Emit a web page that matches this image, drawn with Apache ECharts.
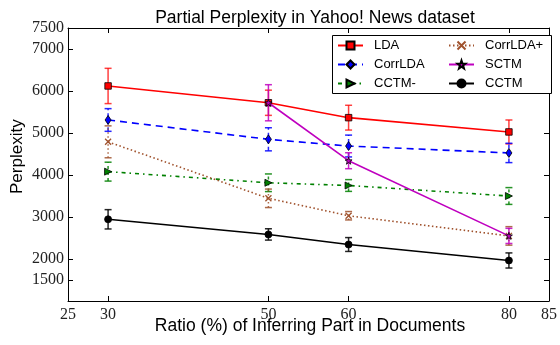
<!DOCTYPE html>
<html>
<head>
<meta charset="utf-8">
<script src="https://cdn.jsdelivr.net/npm/echarts@6/dist/echarts.min.js"></script>
<style>html,body{margin:0;padding:0;background:#fff;}#c{width:560px;height:345px;}</style>
</head>
<body>
<div id="c"></div>
<script>
const xValues = [30, 50, 60, 80];
const xTicks = [25, 30, 50, 60, 80, 85];
const yTicks = [1500, 2000, 3000, 4000, 5000, 6000, 7000, 7500];

const ldaVals = [6120, 5720, 5365, 5025];
const ldaErr = [420, 300, 295, 285];
const corrLdaVals = [5310, 4850, 4690, 4525];
const corrLdaErr = [270, 275, 260, 230];
const cctmMinusVals = [4080, 3815, 3750, 3500];
const cctmMinusErr = [225, 210, 140, 200];
const corrLdaPlusVals = [4790, 3445, 3030, 2550];
const corrLdaPlusErr = [380, 220, 100, 220];
const sctmVals = [null, 5720, 4340, 2550];
const sctmErr = [null, 430, 190, 180];
const cctmVals = [2945, 2585, 2345, 1965];
const cctmErr = [230, 135, 165, 180];

const legendCol1 = ['LDA', 'CorrLDA', 'CCTM-'];
const legendCol2 = ['CorrLDA+', 'SCTM', 'CCTM'];

const seriesDefs = [
  {name: 'LDA', vals: ldaVals, err: ldaErr, color: '#ff0000', errColor: 'rgba(255,0,0,0.75)', dash: 'solid', errDash: null,
   symbol: 'rect', size: 6.5, symbolColor: '#ff0000', border: '#000', rotate: 0},
  {name: 'CorrLDA', vals: corrLdaVals, err: corrLdaErr, color: '#0000ff', errColor: 'rgba(0,0,255,0.85)', dash: [7, 5], errDash: [4, 3],
   symbol: 'diamond', size: [6, 9], symbolColor: '#0000ff', border: '#000', rotate: 0},
  {name: 'CCTM-', vals: cctmMinusVals, err: cctmMinusErr, color: '#008000', errColor: 'rgba(0,128,0,0.85)', dash: [4, 4, 1.5, 4], errDash: [3, 3],
   symbol: 'triangle', size: 7, symbolColor: '#008000', border: '#000', rotate: -90},
  {name: 'CorrLDA+', vals: corrLdaPlusVals, err: corrLdaPlusErr, color: '#a0522d', errColor: 'rgba(160,82,45,0.85)', dash: [1.5, 2.5], errDash: [1.5, 2.5],
   symbol: 'path://M0,0L10,10M10,0L0,10', size: 6, symbolColor: '#a0522d', border: '#a0522d', rotate: 0},
  {name: 'SCTM', vals: sctmVals, err: sctmErr, color: '#bf00bf', errColor: 'rgba(191,0,191,0.85)', dash: 'solid', errDash: null,
   symbol: 'path://M5,0L6.2,3.6L10,3.8L7,6.1L8.1,10L5,7.7L1.9,10L3,6.1L0,3.8L3.8,3.6Z', size: 7, symbolColor: '#bf00bf', border: '#000', rotate: 0},
  {name: 'CCTM', vals: cctmVals, err: cctmErr, color: '#000000', errColor: 'rgba(0,0,0,0.85)', dash: 'solid', errDash: null,
   symbol: 'circle', size: 7, symbolColor: '#000', border: '#000', rotate: 0}
];

function errRender(color, dash) {
  return function (params, api) {
    const x = api.value(0), lo = api.value(1), hi = api.value(2);
    const a = api.coord([x, lo]), b = api.coord([x, hi]);
    const w = 3.5;
    const st = {stroke: color, lineWidth: 1.5};
    return {type: 'group', children: [
      {type: 'line', shape: {x1: a[0], y1: a[1], x2: b[0], y2: b[1]}, style: Object.assign({}, st, dash ? {lineDash: dash} : {})},
      {type: 'line', shape: {x1: a[0] - w, y1: a[1], x2: a[0] + w, y2: a[1]}, style: st},
      {type: 'line', shape: {x1: b[0] - w, y1: b[1], x2: b[0] + w, y2: b[1]}, style: st}
    ]};
  };
}

const series = [];
seriesDefs.forEach(function (d, k) {
  const errData = [];
  xValues.forEach(function (x, i) {
    if (d.vals[i] != null) errData.push([x, d.vals[i] - d.err[i], d.vals[i] + d.err[i]]);
  });
  series.push({
    type: 'custom', name: d.name + ' err', renderItem: errRender(d.errColor, d.errDash),
    data: errData, encode: {x: 0, y: [1, 2]}, z: 10 + k * 2, silent: true, clip: false
  });
  series.push({
    type: 'line', name: d.name,
    data: xValues.map(function (x, i) { return d.vals[i] == null ? null : [x, d.vals[i]]; }).filter(function (p) { return p; }),
    symbol: d.symbol, symbolSize: d.size, symbolRotate: d.rotate, showAllSymbol: true,
    lineStyle: {color: d.color, width: 1.6, type: d.dash},
    itemStyle: {color: d.symbolColor, borderColor: d.border, borderWidth: d.name === 'CorrLDA+' ? 1.3 : 0.8},
    z: 11 + k * 2, animation: false
  });
});

const serif = 'Liberation Serif';
const sans = 'Liberation Sans';
const plain = function (v) { return String(v); };

function makeLegend(left, data) {
  return {
    orient: 'vertical', left: left, top: 39, padding: 0, itemGap: 6, itemWidth: 25, itemHeight: 10,
    textStyle: {fontFamily: sans, fontSize: 13, color: '#000', padding: [0, 0, 0, 6]},
    data: data, z: 60
  };
}

const chart = echarts.init(document.getElementById('c'), null, {renderer: 'canvas'});
chart.setOption({
  animation: false,
  backgroundColor: '#fff',
  title: {text: 'Partial Perplexity in Yahoo! News dataset', left: 310, textAlign: 'center', top: 4,
    textStyle: {fontFamily: sans, fontSize: 17.5, fontWeight: 'normal', color: '#000'}},
  grid: {left: 68, right: 7, top: 28, bottom: 44},
  legend: [makeLegend(337, legendCol1), makeLegend(448, legendCol2)],
  xAxis: [{
    type: 'value', min: 25, max: 85, interval: 5,
    axisLine: {show: true, onZero: false, lineStyle: {color: '#000', width: 1}},
    axisTick: {show: true, inside: true, length: 5, customValues: xTicks, lineStyle: {color: '#000'}},
    axisLabel: {customValues: xTicks, formatter: plain, fontFamily: serif, fontSize: 16, color: '#222', margin: 6},
    splitLine: {show: false}
  }, {
    type: 'value', min: 25, max: 85, interval: 5, position: 'top',
    axisLine: {show: true, onZero: false, lineStyle: {color: '#000', width: 1}},
    axisTick: {show: true, inside: true, length: 5, customValues: xTicks, lineStyle: {color: '#000'}},
    axisLabel: {show: false}, splitLine: {show: false}
  }],
  yAxis: [{
    type: 'value', min: 1000, max: 7500, interval: 500,
    axisLine: {show: true, onZero: false, lineStyle: {color: '#000', width: 1}},
    axisTick: {show: true, inside: true, length: 5, customValues: yTicks, lineStyle: {color: '#000'}},
    axisLabel: {customValues: yTicks, formatter: plain, fontFamily: serif, fontSize: 16, color: '#222', margin: 4},
    splitLine: {show: false}
  }, {
    type: 'value', min: 1000, max: 7500, interval: 500, position: 'right',
    axisLine: {show: true, onZero: false, lineStyle: {color: '#000', width: 1}},
    axisTick: {show: true, inside: true, length: 5, customValues: yTicks, lineStyle: {color: '#000'}},
    axisLabel: {show: false}, splitLine: {show: false}
  }],
  graphic: [
    {type: 'rect', shape: {x: 332.5, y: 35.5, width: 219, height: 58}, style: {fill: '#fff', stroke: '#000', lineWidth: 1}, z: 50, silent: true},
    {type: 'text', x: 310, y: 317, style: {text: 'Ratio (%) of Inferring Part in Documents', font: '17.5px "Liberation Sans"', fill: '#000', textAlign: 'center'}},
    {type: 'text', x: 9, y: 194, rotation: Math.PI / 2, style: {text: 'Perplexity', font: '17px "Liberation Sans"', fill: '#000'}}
  ],
  series: series
});
</script>
</body>
</html>
